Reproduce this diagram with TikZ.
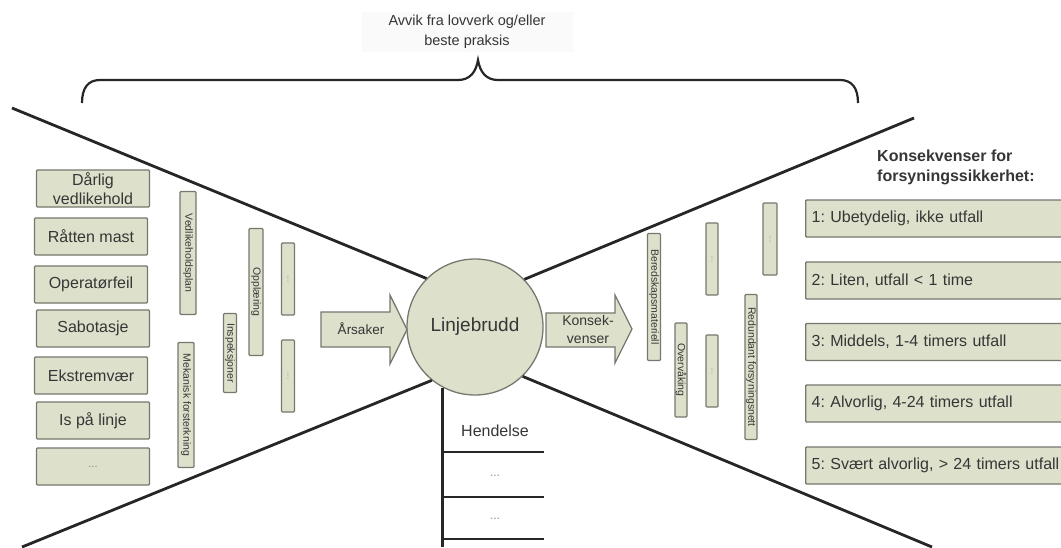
\documentclass[tikz,border=0pt]{standalone}
\usepackage{fontspec}
\setmainfont{Liberation Sans}
\frenchspacing
\definecolor{boxfill}{HTML}{DDE0CB}
\definecolor{boxline}{HTML}{77776E}
\definecolor{txt}{HTML}{363636}
\tikzset{
  box/.style={draw=boxline, fill=boxfill, line width=1.3pt, text=txt, rounded corners=1pt, inner sep=0pt},
  lbox/.style={box, minimum width=113pt, minimum height=37pt, align=center, font=\fontsize{16}{19}\selectfont},
  vbar/.style={box, rotate=-90, minimum height=13pt, font=\fontsize{10.5}{12}\selectfont},
  dots/.style={text=black!45, font=\fontsize{8}{9}\selectfont},
  rbox/.style={box, anchor=west, minimum height=37pt, text width=254pt, inner xsep=6pt, align=left, font=\fontsize{16}{19}\selectfont},
  bow/.style={line width=2.8pt, draw=black!85},
  arrowshape/.style={draw=boxline, fill=boxfill, line width=1.3pt, line join=miter},
}
\begin{document}
\begin{tikzpicture}[x=1pt,y=-1pt]
\useasboundingbox (0,0) rectangle (1061,547);
% top label and brace
\node[fill=black!2, minimum width=211pt, minimum height=39pt, align=center, text=txt,
      font=\fontsize{14.5}{20}\selectfont] (avvik) at (467,32) {Avvik fra lovverk og/eller\\beste praksis};
\draw[line width=2.2pt, draw=black!85] (82,103) .. controls (82,88) and (88,80) .. (100,80) -- (458,80)
  .. controls (470,80) and (476,72) .. (478,60) .. controls (480,72) and (486,80) .. (498,80)
  -- (840,80) .. controls (852,80) and (858,88) .. (858,103);

% central event
\node[box, circle, minimum size=136pt, font=\fontsize{19}{22}\selectfont] (event) at (475,327) {Linjebrudd};

% bow-tie lines
\coordinate (ulend) at (12,108);
\coordinate (llend) at (22,547);
\coordinate (urend) at (914,118);
\coordinate (lrend) at (932,547);
\draw[bow] (ulend) -- (event.135);
\draw[bow] (llend) -- (event.231);
\draw[bow] (urend) -- (event.44);
\draw[bow] (lrend) -- (event.-46);

% event stem
\coordinate (stemend) at (443,547);
\coordinate (h1) at (544,452);
\coordinate (h2) at (544,497);
\coordinate (h3) at (544,539);
\draw[bow] (event.-118) -- (event.-118 |- stemend);
\draw[bow] (event.-118 |- h1) -- (h1);
\draw[bow] (event.-118 |- h2) -- (h2);
\draw[bow] (event.-118 |- h3) -- (h3);
\node[text=txt, font=\fontsize{16}{19}\selectfont] (hendelse) at (495,431) {Hendelse};
\node[text=black!45, font=\fontsize{12}{14}\selectfont] (hd1) at (495,476) {...};
\node[text=black!45, font=\fontsize{12}{14}\selectfont] (hd2) at (495,519) {...};

% arrows
\draw[arrowshape] (321,312) -- (390,312) -- (390,295) -- (407,329.5) -- (390,364) -- (390,347) -- (321,347) -- cycle;
\node[text=txt, font=\fontsize{13.5}{16}\selectfont] (arsaker) at (361,329) {Årsaker};
\draw[arrowshape] (546,313) -- (615,313) -- (615,295) -- (632,329) -- (615,363) -- (615,347) -- (546,347) -- cycle;
\node[text=txt, align=center, font=\fontsize{14}{18}\selectfont] (konsek) at (588,329) {Konsek-\\venser};

% left causes
\node[lbox] (c1) at (93,188.5) {Dårlig\\vedlikehold};
\node[lbox] (c2) at (91,236.5) {Råtten mast};
\node[lbox] (c3) at (91,284.5) {Operatørfeil};
\node[lbox] (c4) at (93,328.5) {Sabotasje};
\node[lbox] (c5) at (91,375.5) {Ekstremvær};
\node[lbox] (c6) at (93,420.5) {Is på linje};
\node[lbox, text=black!45, font=\fontsize{11}{13}\selectfont] (c7) at (93,466.5) {...};

% left barriers
\node[vbar, minimum width=123pt, minimum height=16pt] (b1) at (188,253) {Vedlikeholdsplan};
\node[vbar, minimum width=125pt, minimum height=16pt] (b2) at (186,405) {Mekanisk forsterkning};
\node[vbar, minimum width=79pt] (b3) at (230,353) {Inspeksjoner};
\node[vbar, minimum width=127pt, minimum height=14pt] (b4) at (256,292) {Opplæring};
\node[vbar, minimum width=72pt, dots] (b5) at (288,279) {...};
\node[vbar, minimum width=72pt, dots] (b6) at (288,376) {...};

% right barriers
\node[vbar, minimum width=127pt] (r1) at (654,297) {Beredskapsmateriell};
\node[vbar, minimum width=94pt, minimum height=12pt] (r2) at (681,370) {Overvåking};
\node[vbar, minimum width=72pt, minimum height=12pt, dots] (r3) at (712,259) {...};
\node[vbar, minimum width=72pt, minimum height=12pt, dots] (r4) at (712,371) {...};
\node[vbar, minimum width=72pt, minimum height=14pt, dots] (r5) at (770,239) {...};
\node[vbar, minimum width=145pt, minimum height=12pt] (r6) at (751,367) {Redundant forsyningsnett};

% consequences
\node[anchor=north west, align=left, text=txt, font=\bfseries\fontsize{16}{20}\selectfont, inner sep=0pt] (ktitle) at (877,150) {Konsekvenser for\\forsyningssikkerhet:};
\node[rbox] (k1) at (805,218.5) {1: Ubetydelig, ikke utfall};
\node[rbox] (k2) at (805,280.5) {2: Liten, utfall < 1 time};
\node[rbox] (k3) at (805,342) {3: Middels, 1-4 timers utfall};
\node[rbox] (k4) at (805,403.5) {4: Alvorlig, 4-24 timers utfall};
\node[rbox] (k5) at (805,465.5) {5: Svært alvorlig, > 24 timers utfall};
\end{tikzpicture}
\end{document}
